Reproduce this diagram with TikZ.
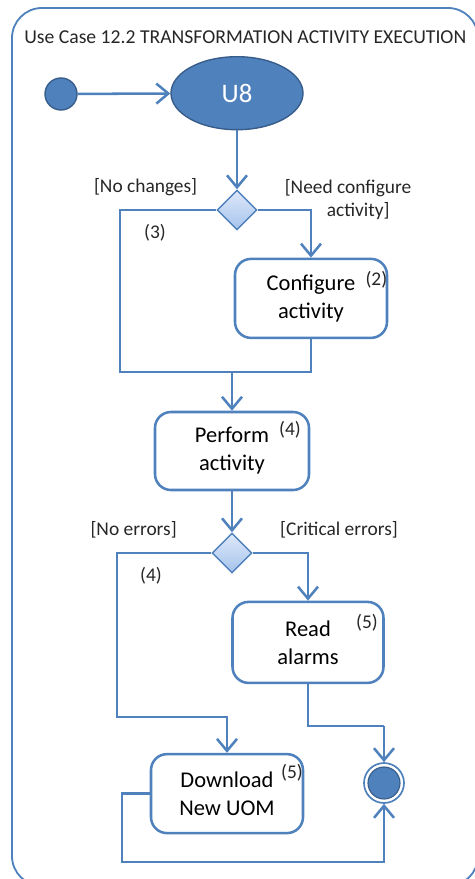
\documentclass[tikz,border=0pt]{standalone}
\usepackage{fontspec}
\setmainfont{Carlito}
\usepackage{tikz}
\usetikzlibrary{arrows.meta, positioning, shapes.geometric, calc}
\definecolor{flowblue}{RGB}{79,129,189}
\definecolor{darkblue}{RGB}{56,93,138}
\definecolor{diamtop}{RGB}{222,232,249}
\definecolor{diambot}{RGB}{165,195,236}
\tikzset{
    activity/.style={rectangle, rounded corners=0.4cm, draw=flowblue, line width=1.8pt, fill=white, align=center, font=\fontsize{16}{20}\selectfont},
    decision/.style={diamond, draw=flowblue, line width=1pt, top color=diamtop, bottom color=diambot, minimum width=1.0cm, minimum height=1.0cm, inner sep=0pt},
    guard/.style={font=\fontsize{13.8}{16.8}\selectfont, align=center, text=black!85},
    arrow/.style={draw=flowblue, line width=1.8pt, -{Straight Barb[length=3mm, width=5mm]}},
    flowline/.style={draw=flowblue, line width=1.8pt}
}

\begin{document}
\begin{tikzpicture}[
    startnode/.style={circle, draw=darkblue, line width=1pt, fill=flowblue, minimum size=0.8cm, inner sep=0pt},
    usecase/.style={ellipse, draw=darkblue, line width=1pt, fill=flowblue, minimum width=3.3cm, minimum height=1.825cm, text=white, font=\fontsize{19}{22}\selectfont},
    endnode/.style={circle, draw=flowblue, line width=1.2pt, fill=white, minimum size=1.0cm, inner sep=0pt},
    endinner/.style={circle, draw=darkblue, line width=0.8pt, fill=flowblue, minimum size=0.8cm, inner sep=0pt}
]
    \useasboundingbox (0,0) rectangle (11.875,-21.975);
    % frame and title
    \draw[draw=flowblue, line width=1.3pt, rounded corners=0.75cm] (0.3,-0.2) rectangle (11.95,-22.15);
    \node[guard, anchor=west, inner sep=0pt, font=\fontsize{14}{17}\selectfont] (title) at (0.6,-0.93) {Use Case 12.2 TRANSFORMATION ACTIVITY EXECUTION};

    % Top: start and U8
    \node[startnode] (start) at (1.525,-2.35) {};
    \node[usecase] (u8) at (5.925,-2.33) {U8};
    \draw[arrow] (start) -- (u8);

    % First decision: configure or not
    \node[decision] (dec1) at (5.925,-5.25) {};
    \node[activity, minimum width=3.8cm, minimum height=1.975cm] (config) at (7.775,-7.46) {Configure\\activity};
    \node[guard] (nochange) at (3.64,-4.675) {[No changes]};
    \node[guard, align=left] (needconf) at (8.7,-4.99) {[Need configure\\\hspace*{1.05cm}activity]};
    \node[guard] (n3) at (3.875,-5.825) {(3)};
    \node[guard] (n2) at (9.41,-7.0) {(2)};
    \coordinate (loopA) at (3.0,-9.3);
    \coordinate (joinA) at (5.8,-9.3);
    \draw[arrow] (u8) -- (dec1);
    \draw[arrow] (dec1.east) -| (config.north);
    \draw[flowline] (dec1.west) -| (loopA) -| (config.south);

    % Perform activity
    \node[activity, minimum width=3.85cm, minimum height=1.95cm] (perform) at (5.8,-11.275) {Perform\\activity};
    \node[guard] (n4a) at (7.25,-10.75) {(4)};
    \draw[arrow] (joinA) -- (perform);

    % Second decision: errors or not
    \node[decision] (dec2) at (5.8,-13.825) {};
    \node[guard] (noerr) at (3.34,-13.25) {[No errors]};
    \node[guard] (criterr) at (8.475,-13.25) {[Critical errors]};
    \node[guard] (n4b) at (3.775,-14.4) {(4)};
    \draw[arrow] (perform) -- (dec2);

    \node[activity, minimum width=3.775cm, minimum height=2.025cm] (read) at (7.7,-16.06) {Read\\alarms};
    \node[guard] (n5a) at (9.175,-15.575) {(5)};
    \node[activity, minimum width=3.8cm, minimum height=1.975cm] (download) at (5.675,-19.84) {Download\\New UOM};
    \node[guard] (n5b) at (7.3,-19.325) {(5)};

    % End node
    \node[endnode] (final) at (9.6,-19.575) {};
    \node[endinner] (finalin) at (final) {};

    \coordinate (loopB) at (2.925,-17.925);
    \coordinate (bendR) at (9.6,-18.15);
    \coordinate (loopC) at (3.05,-21.55);
    \draw[arrow] (dec2.east) -| (read.north);
    \draw[arrow] (dec2.west) -| (loopB) -| (download.north);
    \draw[flowline] (read.south) |- (bendR);
    \draw[arrow] (bendR) -- (final.north);
    \draw[arrow] (download.west) -| (loopC) -| (final.south);
\end{tikzpicture}
\end{document}
